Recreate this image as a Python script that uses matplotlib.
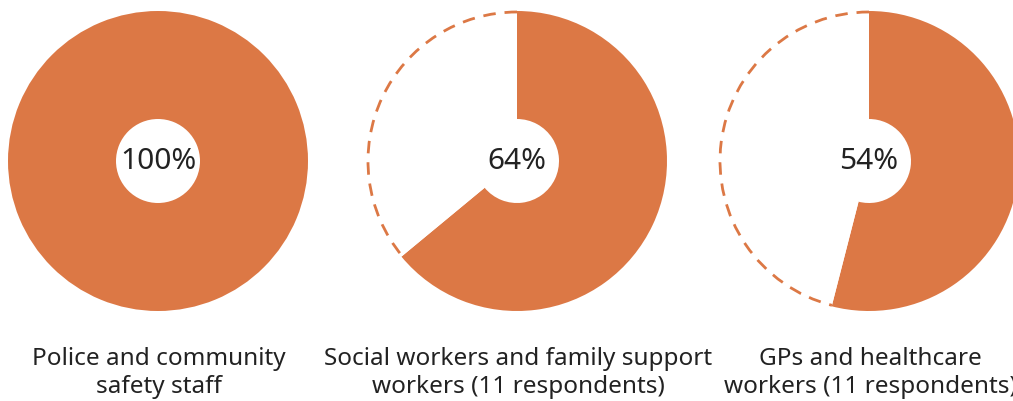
import matplotlib.pyplot as plt
from matplotlib.patches import Arc

# share of respondents per group (percent)
groups = ["Police and community\nsafety staff",
          "Social workers and family support\nworkers (11 respondents)",
          "GPs and healthcare\nworkers (11 respondents)"]
shares = [100, 64, 54]

col = '#DC7845'
centers_x = [158, 517, 869]
R = 150
hole = 42

fig = plt.figure(figsize=(10.13, 4.02), dpi=100)
ax = fig.add_axes([0, 0, 1, 1])

for cx, share, name in zip(centers_x, shares, groups):
    vals = [share, 100 - share]
    wedges, _ = ax.pie(vals, center=(cx, 240), radius=R, startangle=90,
                       counterclock=False, colors=[col, 'white'],
                       wedgeprops=dict(width=R - hole, linewidth=0),
                       normalize=True, frame=True)
    if share < 100:
        w = wedges[1]
        ax.add_patch(Arc((cx, 240), 2 * R - 2, 2 * R - 2, theta1=w.theta1, theta2=w.theta2,
                         color=col, lw=2, linestyle=(0, (4.5, 3.2))))
    ax.text(cx, 240, f"{share}%", ha='center', va='center',
            fontsize=21.5, color='#222222', family='Noto Sans', fontweight='medium')
    ax.text(cx + 1, 402 - 373, name, ha='center', va='center', fontsize=17.5,
            color='#222222', family='Noto Sans', fontweight='medium', linespacing=1.2)

ax.set_xlim(0, 1013)
ax.set_ylim(0, 402)
ax.set_aspect('equal')
ax.axis('off')

fig.savefig('out.png', dpi=100)
